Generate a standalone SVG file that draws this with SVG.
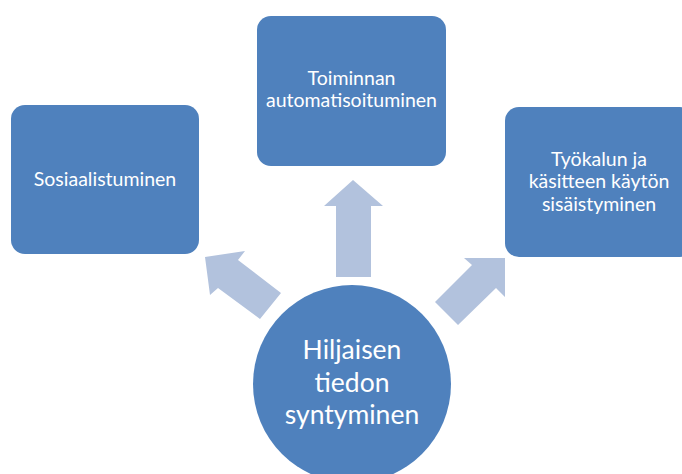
<svg xmlns="http://www.w3.org/2000/svg" width="682" height="474" viewBox="0 0 682 474">
<style>
.box{fill:#4F81BD;}
.arr{fill:#B2C2DD;}
.t{fill:#FFFFFF;font-family:Lato,"Open Sans","Liberation Sans",sans-serif;text-anchor:middle;}
.s{font-size:19.5px;}
.b{font-size:26.5px;}
</style>
<rect width="682" height="474" fill="#FFFFFF"/>
<g id="connectors">
<polygon class="arr" points="353,180 383,206 371,206 371,277 336,277 336,206 324,206"/>
<polygon class="arr" points="205,257 245,251 238,260 281,293 260,319 218,288 210,295"/>
<polygon class="arr" points="505,258 464,258 472,265 435,302 458,325 496,288 505,297"/>
</g>
<g id="node-sosiaalistuminen">
<rect class="box" x="11" y="105" width="188" height="149" rx="14"/>
<text class="t s" x="105" y="186">Sosiaalistuminen</text>
</g>
<g id="node-automatisoituminen">
<rect class="box" x="257" y="16" width="189" height="150" rx="14"/>
<text class="t s" x="351.5" y="85">Toiminnan</text>
<text class="t s" x="351.5" y="107">automatisoituminen</text>
</g>
<g id="node-sisaistyminen">
<rect class="box" x="505" y="107" width="189" height="150" rx="14"/>
<text class="t s" x="599" y="166">Työkalun ja</text>
<text class="t s" x="599" y="188">käsitteen käytön</text>
<text class="t s" x="599" y="211">sisäistyminen</text>
</g>
<g id="node-hiljainen-tieto">
<circle class="box" cx="352" cy="384" r="99"/>
<text class="t b" x="352" y="359">Hiljaisen</text>
<text class="t b" x="352" y="392">tiedon</text>
<text class="t b" x="352" y="424">syntyminen</text>
</g>
</svg>
